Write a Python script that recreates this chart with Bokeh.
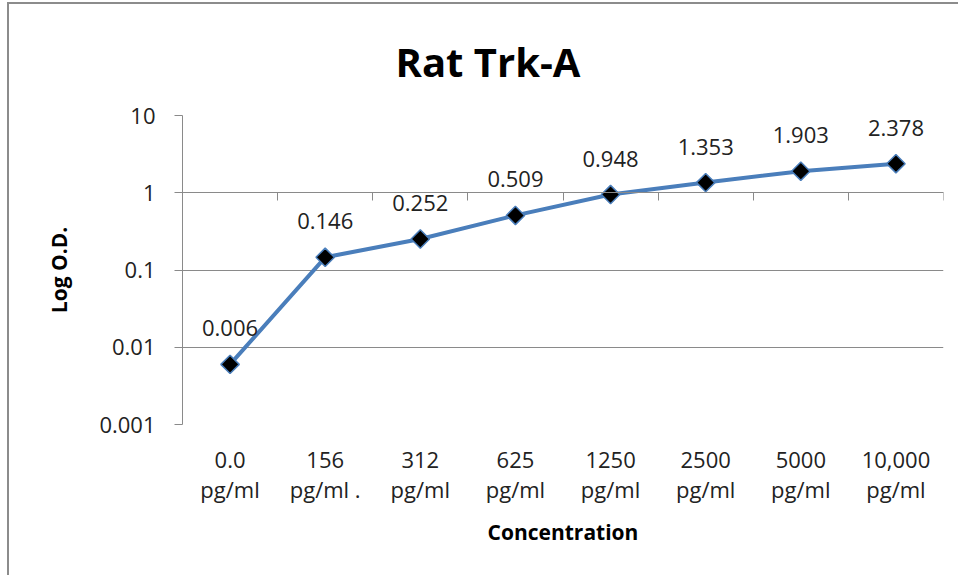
import math
from bokeh.plotting import figure
from bokeh.models import (Range1d, LinearAxis, FixedTicker, ColumnDataSource, LabelSet)
from bokeh.core.properties import value
from bokeh.embed import file_html
from bokeh.resources import INLINE

# ---- data ----
categories = ["0.0\npg/ml", "156\npg/ml .", "312\npg/ml", "625\npg/ml",
              "1250\npg/ml", "2500\npg/ml", "5000\npg/ml", "10,000\npg/ml"]
od_values = [0.006, 0.146, 0.252, 0.509, 0.948, 1.353, 1.903, 2.378]
y_ticks = [0.001, 0.01, 0.1, 1, 10]
y_tick_labels = ["0.001", "0.01", "0.1", "1", "10"]
title_text = "Rat Trk-A"
x_title = "Concentration"
y_title = "Log O.D."

FONT = "Open Sans"
GRID = "#8a8a8a"
BLUE = "#4a7ebb"
LBL = "22px"

n = len(categories)
x_centers = [i + 0.5 for i in range(n)]

p = figure(width=951, height=573, output_backend="svg", toolbar_location=None,
           x_range=Range1d(0, n), y_range=Range1d(0.001, 10),
           y_axis_type="log", min_border_left=173, min_border_right=17,
           min_border_top=111, min_border_bottom=153)
p.outline_line_color = None
p.styles = {"margin-left": "7px", "margin-top": "2px",
            "border-left": "2px solid #8c8c8c", "border-top": "2px solid #8c8c8c"}

# title
p.title.text = title_text
p.title.align = "left"
p.title.offset = 213
p.title.standoff = 53
p.title.text_font = FONT
p.title.text_font_size = "40px"
p.title.text_font_style = "bold"
p.title.text_color = "#000000"

# grid
p.xgrid.grid_line_color = None
p.ygrid.grid_line_color = GRID
p.ygrid.ticker = FixedTicker(ticks=y_ticks)

# y axis
ya = p.yaxis[0]
ya.ticker = FixedTicker(ticks=y_ticks, minor_ticks=[])
ya.major_label_overrides = {t: l for t, l in zip(y_ticks, y_tick_labels)}
ya.axis_line_color = GRID
ya.major_tick_line_color = GRID
ya.major_tick_out = 8
ya.major_tick_in = 0
ya.minor_tick_line_color = None
ya.major_label_text_font = FONT
ya.major_label_text_font_size = LBL
ya.major_label_text_color = "#222222"
ya.major_label_standoff = 19
ya.axis_label = y_title
ya.axis_label_text_font = FONT
ya.axis_label_text_font_size = "21px"
ya.axis_label_text_font_style = "bold"
ya.axis_label_text_color = "#000000"
ya.axis_label_standoff = 23

# x axis (labels at bottom)
xa = p.xaxis[0]
xa.ticker = FixedTicker(ticks=x_centers, minor_ticks=[])
xa.major_label_overrides = {x: c for x, c in zip(x_centers, categories)}
xa.axis_line_color = None
xa.major_tick_line_color = None
xa.minor_tick_line_color = None
xa.major_label_text_font = FONT
xa.major_label_text_font_size = LBL
xa.major_label_text_line_height = 1.0
xa.major_label_text_color = "#222222"
xa.major_label_standoff = 13
xa.axis_label = x_title
xa.axis_label_text_font = FONT
xa.axis_label_text_font_size = "21px"
xa.axis_label_text_font_style = "bold"
xa.axis_label_text_color = "#000000"
xa.axis_label_standoff = 11

# category boundary ticks crossing at y = 1
ba = LinearAxis(fixed_location=1, ticker=FixedTicker(ticks=list(range(n + 1)), minor_ticks=[]))
ba.axis_line_color = GRID
ba.major_tick_line_color = GRID
ba.major_tick_out = 8
ba.major_tick_in = 0
ba.minor_tick_line_color = None
ba.major_label_text_font_size = "0px"
ba.major_label_text_alpha = 0
p.add_layout(ba, "below")

src = ColumnDataSource(dict(x=x_centers, y=od_values,
                            lbl=["{:.3f}".format(v) for v in od_values]))
p.line("x", "y", source=src, line_color=BLUE, line_width=4)
p.scatter("x", "y", source=src, marker="square", angle=math.pi / 4, size=13,
          fill_color="#000000", line_color=BLUE, line_width=1.5)
labels = LabelSet(x="x", y="y", text="lbl", source=src, text_align="center",
                  text_baseline="middle", y_offset=36, text_font=value(FONT),
                  text_font_size=LBL, text_color="#222222")
p.add_layout(labels)

open("out.html", "w").write(file_html(p, INLINE))
